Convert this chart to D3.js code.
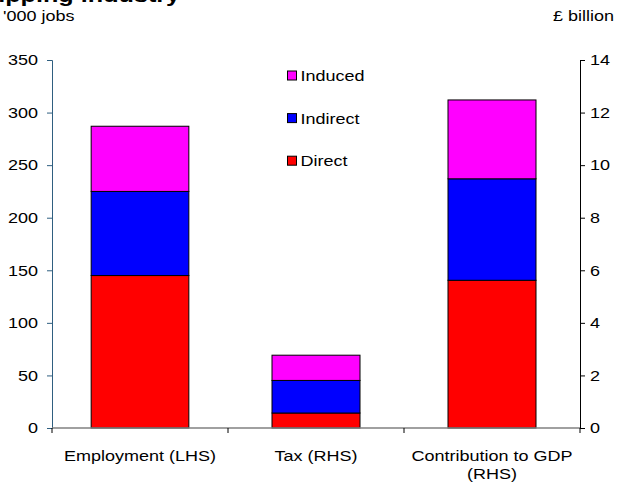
<!DOCTYPE html>
<html>
<head>
<meta charset="utf-8">
<script src="https://cdn.jsdelivr.net/npm/d3@7/dist/d3.min.js"></script>
<style>
  html, body { margin: 0; padding: 0; background: #fff; }
  svg { display: block; font-family: Arial, "Liberation Sans", sans-serif; }
</style>
</head>
<body>
<svg id="chart" width="619" height="484"></svg>
<script>
const categories = ["Employment (LHS)", "Tax (RHS)", "Contribution to GDP (RHS)"];
const categoryLines = [["Employment (LHS)"], ["Tax (RHS)"], ["Contribution to GDP", "(RHS)"]];
const categoryAxis = ["L", "R", "R"];
const seriesNames = ["Direct", "Indirect", "Induced"];
const seriesColors = ["#ff0000", "#0000ff", "#ff00ff"];
const direct = [145, 0.57, 5.62];
const indirect = [80, 1.24, 3.86];
const induced = [62, 0.96, 3.0];
const leftTicks = [0, 50, 100, 150, 200, 250, 300, 350];
const rightTicks = [0, 2, 4, 6, 8, 10, 12, 14];
const titleText = "Shipping industry";
const leftUnit = "'000 jobs";
const rightUnit = "£ billion";

const SX = 1.2; // horizontal stretch of the reference's lettering
const svg = d3.select("#chart");
const W = 619, H = 484;
const m = { left: 52, right: 39, top: 60, bottom: 56 };
const x0 = m.left, x1 = W - m.right, yTop = m.top, yBot = H - m.bottom;

function stretchedText(parent, x, y, str, opts) {
  opts = opts || {};
  const t = parent.append("text")
    .attr("transform", `translate(${x},${y}) scale(${SX},1)`)
    .attr("font-size", opts.size || 15)
    .attr("fill", "#000")
    .attr("text-anchor", opts.anchor || "start")
    .text(str);
  if (opts.bold) t.attr("font-weight", "bold");
  return t;
}

const x = d3.scaleBand().domain(categories).range([x0, x1]).padding(0);
const yL = d3.scaleLinear().domain([0, 350]).range([yBot, yTop]);
const yR = d3.scaleLinear().domain([0, 14]).range([yBot, yTop]);

// Title (cut off at the top as in the reference)
stretchedText(svg, -34, 2, titleText, { size: 21, bold: true });

stretchedText(svg, 3, 21, leftUnit, { size: 15 });
stretchedText(svg, 614, 21, rightUnit, { size: 15, anchor: "end" });

// Stack data
const seriesVals = [direct, indirect, induced];
const rows = categories.map((c, i) => {
  const r = { cat: c, axis: categoryAxis[i] };
  seriesNames.forEach((s, k) => r[s] = seriesVals[k][i]);
  return r;
});
const stacked = d3.stack().keys(seriesNames)(rows);
const barW = d => x.bandwidth() * (d.data.axis === "L" ? 0.555 : 0.5);

const bars = svg.append("g");
stacked.forEach((layer, k) => {
  bars.selectAll(null).data(layer).enter().append("rect")
    .attr("x", d => x(d.data.cat) + (x.bandwidth() - barW(d)) / 2)
    .attr("width", barW)
    .attr("y", d => (d.data.axis === "L" ? yL : yR)(d[1]))
    .attr("height", d => { const s = d.data.axis === "L" ? yL : yR; return s(d[0]) - s(d[1]); })
    .attr("fill", seriesColors[k])
    .attr("stroke", "#000").attr("stroke-width", 1);
});

// Left axis
const gl = svg.append("g").attr("transform", `translate(${x0},0)`)
  .call(d3.axisLeft(yL).tickValues(leftTicks).tickSize(5).tickPadding(7));
gl.select(".domain").attr("stroke", "#2f5f80");
gl.selectAll(".tick line").attr("stroke", "#2f5f80");
gl.selectAll(".tick text").attr("font-size", 15).attr("fill", "#000")
  .attr("font-family", "Arial, 'Liberation Sans', sans-serif")
  .attr("transform", function () { return `translate(${-14},0) scale(${SX},1)`; })
  .attr("x", 0);

// Right axis
const gr = svg.append("g").attr("transform", `translate(${x1},0)`)
  .call(d3.axisRight(yR).tickValues(rightTicks).tickSize(5).tickPadding(6));
gr.select(".domain").attr("stroke", "#000");
gr.selectAll(".tick line").attr("stroke", "#000");
gr.selectAll(".tick text").attr("font-size", 15).attr("fill", "#000")
  .attr("font-family", "Arial, 'Liberation Sans', sans-serif")
  .attr("transform", function () { return `translate(${10},0) scale(${SX},1)`; })
  .attr("x", 0);

// Category axis
const gx = svg.append("g").attr("transform", `translate(0,${yBot})`);
gx.append("line").attr("x1", x0).attr("x2", x1).attr("y1", 0).attr("y2", 0).attr("stroke", "#808080").attr("stroke-width", 1.5);
const bounds = categories.map(c => x(c)).concat([x1]);
gx.selectAll(null).data(bounds).enter().append("line")
  .attr("x1", d => d).attr("x2", d => d).attr("y1", 0).attr("y2", 5).attr("stroke", "#000");
categories.forEach((c, i) => {
  categoryLines[i].forEach((ln, j) => {
    stretchedText(gx, x(c) + x.bandwidth() / 2, 33 + j * 18, ln, { size: 15, anchor: "middle" });
  });
});

// Legend
const legendOrder = [2, 1, 0];
const lg = svg.append("g");
legendOrder.forEach((k, j) => {
  const cy = 75.5 + j * 42.6;
  lg.append("rect").attr("x", 287.5).attr("y", cy - 4.5).attr("width", 9).attr("height", 9)
    .attr("fill", seriesColors[k]).attr("stroke", "#000").attr("stroke-width", 1);
  stretchedText(lg, 300.5, cy + 5.5, seriesNames[k], { size: 15 });
});
</script>
</body>
</html>
